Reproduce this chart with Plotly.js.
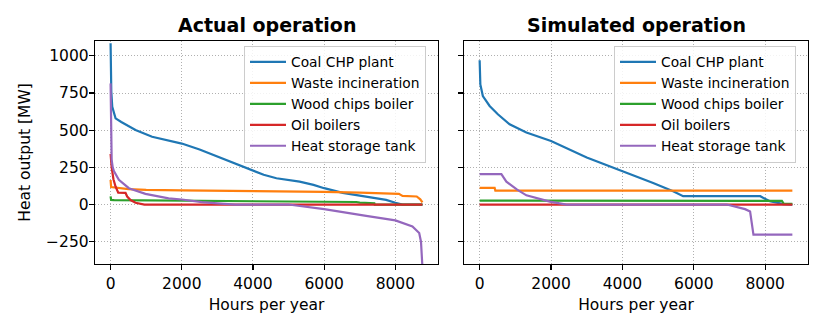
<!DOCTYPE html>
<html>
<head>
<meta charset="utf-8">
<script src="https://cdn.plot.ly/plotly-3.0.1.min.js"></script>
<style>html,body{margin:0;padding:0;background:#fff;}#chart{width:830px;height:332px;}</style>
</head>
<body>
<div id="chart"></div>
<script>
// ---- Data ----
const seriesNames = ["Coal CHP plant", "Waste incineration", "Wood chips boiler", "Oil boilers", "Heat storage tank"];
const panelTitles = ["Actual operation", "Simulated operation"];
const yTicks = [-250, 0, 250, 500, 750, 1000];
const xTicks = [0, 2000, 4000, 6000, 8000];

// Actual operation
const coalActH  = [0, 5, 20, 47, 100, 140, 300, 700, 1166, 2000, 2500, 3000, 3500, 4000, 4300, 4660, 5310, 5700, 6000, 6520, 7180, 7740, 8000, 8200, 8760];
const coalActMW = [1085, 950, 760, 658, 600, 580, 555, 501, 456, 410, 370, 322, 278, 228, 200, 177, 154, 132, 110, 78, 54, 31, 12, 0, 0];
const wasteActH  = [0, 15, 500, 1000, 2000, 3500, 4000, 6000, 7000, 7550, 8100, 8200, 8600, 8700, 8760];
const wasteActMW = [165, 118, 104, 99, 95, 93, 92, 85, 80, 76, 72, 58, 54, 35, 14];
const woodActH  = [0, 15, 100, 2000, 4000, 6000, 6900, 7000, 7410, 7420, 8760];
const woodActMW = [55, 30, 29, 27, 24, 20, 17, 13, 9, 0, 0];
const oilActH  = [0, 30, 80, 140, 215, 420, 466, 560, 700, 850, 950, 8760];
const oilActMW = [340, 250, 170, 121, 80, 78, 54, 30, 12, 3, 0, 0];
const storActH  = [0, 10, 30, 60, 93, 232, 513, 979, 1630, 2000, 2565, 3000, 3500, 5000, 6000, 7180, 8000, 8480, 8670, 8720, 8745, 8760];
const storActMW = [815, 500, 300, 250, 225, 166, 110, 72, 42, 34, 16, 8, 0, 0, -31, -76, -107, -148, -192, -250, -320, -420];

// Simulated operation
const coalSimH  = [0, 20, 90, 280, 510, 840, 1310, 2000, 3000, 4000, 4300, 4860, 5420, 5700, 7860, 8130, 8420, 8500, 8760];
const coalSimMW = [971, 808, 730, 663, 607, 540, 484, 428, 317, 224, 201, 145, 89, 56, 56, 22, 8, 3, 0];
const wasteSimH  = [0, 420, 440, 8760];
const wasteSimMW = [112, 112, 94, 94];
const woodSimH  = [0, 8467, 8520, 8760];
const woodSimMW = [26, 24, 5, 5];
const oilSimH  = [0, 8760];
const oilSimMW = [0, 0];
const storSimH  = [0, 609, 749, 1050, 1310, 1965, 2433, 6924, 7435, 7576, 7670, 8760];
const storSimMW = [204, 204, 154, 100, 62, 20, 0, 0, -31, -47, -203, -203];

const colors = ["#1f77b4", "#ff7f0e", "#2ca02c", "#d62728", "#9467bd"];
const actual = [[coalActH, coalActMW], [wasteActH, wasteActMW], [woodActH, woodActMW], [oilActH, oilActMW], [storActH, storActMW]];
const simulated = [[coalSimH, coalSimMW], [wasteSimH, wasteSimMW], [woodSimH, woodSimMW], [oilSimH, oilSimMW], [storSimH, storSimMW]];

const traces = [];
actual.forEach((d, i) => traces.push({
  x: d[0], y: d[1], type: "scatter", mode: "lines", name: seriesNames[i],
  line: {color: colors[i], width: 2.2}, xaxis: "x", yaxis: "y", legend: "legend"
}));
simulated.forEach((d, i) => traces.push({
  x: d[0], y: d[1], type: "scatter", mode: "lines", name: seriesNames[i],
  line: {color: colors[i], width: 2.2}, xaxis: "x2", yaxis: "y2", legend: "legend2"
}));

const W = 830, H = 332;
const font = {family: "DejaVu Sans", size: 15.5, color: "#000"};
const axisCommon = {
  showline: true, mirror: true, linecolor: "#000", linewidth: 1.2,
  ticks: "outside", ticklen: 5, tickwidth: 1.2, tickcolor: "#000",
  showgrid: true, gridcolor: "#b0b0b0", griddash: "1px,2px", gridwidth: 1,
  zeroline: false, tickfont: font
};
const xRange = [-438, 9198];
const yRange = [-400, 1100];
const legendCommon = {
  xanchor: "left", yanchor: "top", bgcolor: "rgba(255,255,255,0.85)",
  bordercolor: "#cccccc", borderwidth: 1, font: {family: "DejaVu Sans", size: 13.8, color: "#000"},
  itemwidth: 36
};

const layout = {
  width: W, height: H,
  margin: {l: 0, r: 0, t: 0, b: 0},
  paper_bgcolor: "#fff", plot_bgcolor: "#fff",
  font: font,
  showlegend: true,
  xaxis: Object.assign({}, axisCommon, {domain: [95/W, 438/W], range: xRange, tickvals: xTicks, anchor: "y",
    title: {text: "Hours per year", font: font, standoff: 7}}),
  yaxis: Object.assign({}, axisCommon, {domain: [(H-264)/H, (H-41)/H], range: yRange, tickvals: yTicks, anchor: "x",
    ticklabelstandoff: -3,
    title: {text: "Heat output [MW]", font: font, standoff: 11}}),
  xaxis2: Object.assign({}, axisCommon, {domain: [464/W, 808/W], range: xRange, tickvals: xTicks, anchor: "y2",
    title: {text: "Hours per year", font: font, standoff: 7}}),
  yaxis2: Object.assign({}, axisCommon, {domain: [(H-264)/H, (H-41)/H], range: yRange, tickvals: yTicks, anchor: "x2",
    showticklabels: false}),
  legend: Object.assign({}, legendCommon, {x: 244/W, y: (H-45.5)/H}),
  legend2: Object.assign({}, legendCommon, {x: 614/W, y: (H-45.5)/H}),
  annotations: [
    {text: "<b>" + panelTitles[0] + "</b>", x: (95+438)/2/W, y: (H-25)/H, xref: "paper", yref: "paper",
     xanchor: "center", yanchor: "middle", showarrow: false, font: {family: "DejaVu Sans", size: 19, color: "#000"}},
    {text: "<b>" + panelTitles[1] + "</b>", x: (464+808)/2/W, y: (H-25)/H, xref: "paper", yref: "paper",
     xanchor: "center", yanchor: "middle", showarrow: false, font: {family: "DejaVu Sans", size: 19, color: "#000"}}
  ]
};

Plotly.newPlot("chart", traces, layout, {displayModeBar: false, staticPlot: true});
</script>
</body>
</html>
